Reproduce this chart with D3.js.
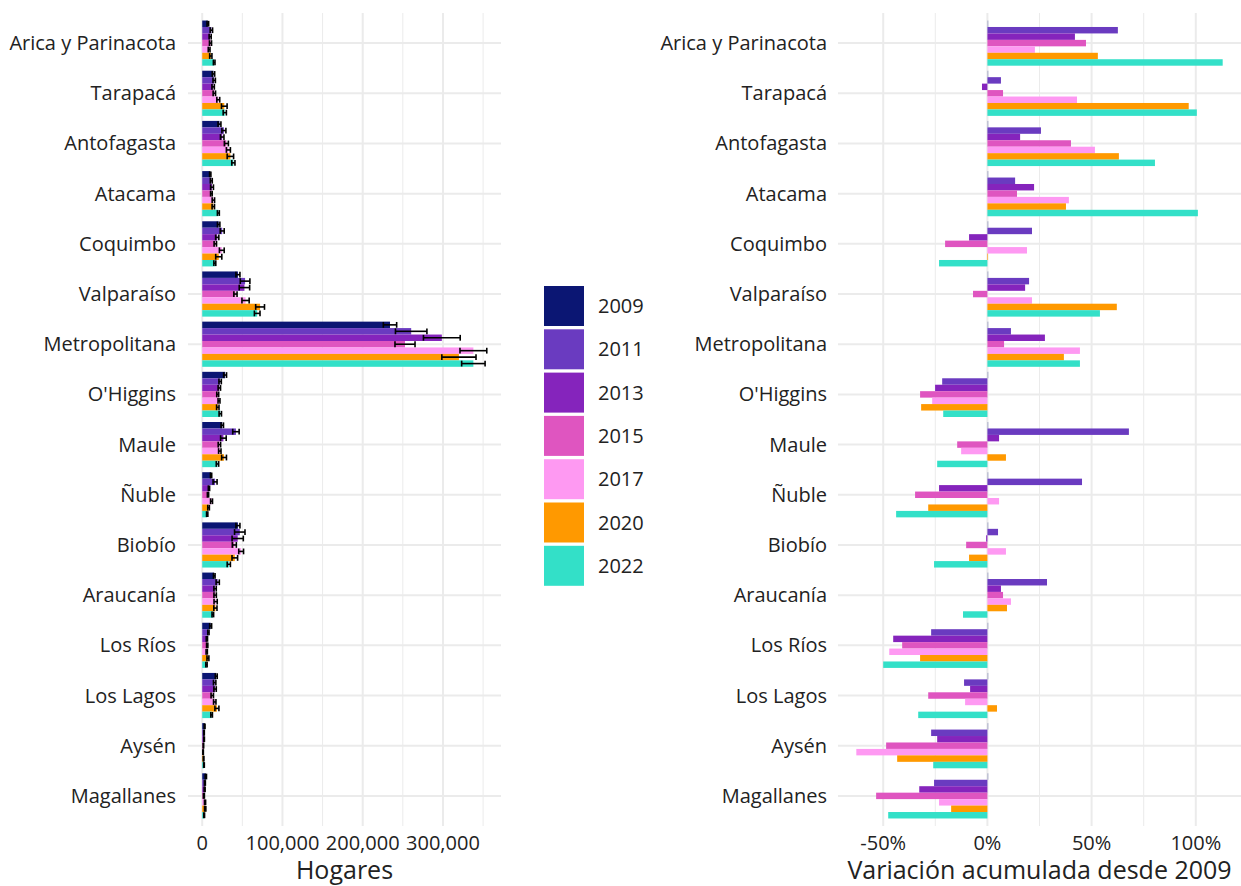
<!DOCTYPE html>
<html>
<head>
    <meta charset="utf-8">
    <title>Hogares por región</title>
    <script src="https://d3js.org/d3.v7.min.js"></script>
    <style>
        body { margin: 0; background: #fff; }
        text { font-family: "Open Sans", "Noto Sans", sans-serif; fill: #222; }
    </style>
</head>
<body>
    <script>
        // Data
        var regions = ["Arica y Parinacota", "Tarapacá", "Antofagasta", "Atacama", "Coquimbo", "Valparaíso",
            "Metropolitana", "O'Higgins", "Maule", "Ñuble", "Biobío", "Araucanía", "Los Ríos", "Los Lagos",
            "Aysén", "Magallanes"];
        var years = ["2009", "2011", "2013", "2015", "2017", "2020", "2022"];
        var colors = ["#0b1673", "#6a3bc0", "#8524bc", "#df55c0", "#fe99f2", "#ff9900", "#33e0c8"];

        // households per region, one value per year
        var hogares = [
            [7000, 11400, 9900, 10300, 8600, 10700, 14900],
            [14000, 14900, 13600, 15100, 20000, 27500, 28100],
            [21500, 27000, 24900, 30100, 32600, 35100, 38800],
            [10000, 11300, 12200, 11400, 13900, 13800, 20100],
            [20500, 24900, 18700, 16300, 24400, 20600, 15700],
            [44500, 53400, 52600, 41400, 54000, 72100, 68500],
            [234000, 260400, 298600, 252700, 337900, 319900, 337900],
            [28500, 22300, 21300, 19300, 20900, 19400, 22500],
            [25000, 42000, 26400, 21400, 21900, 27200, 19000],
            [11000, 16000, 8400, 7200, 11600, 7900, 6200],
            [44500, 46800, 44200, 40000, 48500, 40600, 33100],
            [15000, 19300, 16000, 16100, 16700, 16400, 13200],
            [10500, 7700, 5800, 6200, 5600, 7100, 5300],
            [17500, 15500, 16000, 12500, 15600, 18300, 11700],
            [3000, 2200, 2300, 1500, 1100, 1700, 2200],
            [4500, 3300, 3000, 2100, 3500, 3700, 2400]
        ];
        // half width of the error bars
        var errores = [
            [1000, 1500, 1300, 1300, 1100, 1400, 1000],
            [1500, 1500, 1500, 1500, 1800, 3500, 2000],
            [1800, 2500, 2200, 2500, 2500, 4000, 2000],
            [800, 1200, 1800, 1000, 1500, 1500, 1200],
            [1500, 2500, 2000, 1500, 3000, 3800, 1200],
            [2500, 6000, 6500, 2000, 4500, 5500, 3500],
            [8300, 19600, 22900, 12500, 16700, 21300, 14600],
            [1800, 1500, 1500, 1200, 1200, 1500, 1500],
            [1500, 4000, 3500, 1500, 1500, 3000, 1500],
            [800, 2500, 800, 800, 1200, 1000, 800],
            [2500, 6500, 7000, 2500, 3000, 3500, 2000],
            [1000, 2000, 1500, 1500, 2000, 2000, 1000],
            [1200, 800, 800, 800, 800, 1200, 800],
            [1200, 1500, 1500, 1500, 1500, 2500, 1000],
            [500, 400, 400, 300, 300, 400, 400],
            [800, 600, 600, 600, 700, 800, 500]
        ];
        // cumulative change since 2009, in %
        var variacion = [
            [0, 62.6, 42.0, 47.3, 22.8, 53.0, 112.9],
            [0, 6.5, -2.6, 7.5, 43.0, 96.6, 100.5],
            [0, 25.7, 15.7, 40.1, 51.6, 63.1, 80.4],
            [0, 13.3, 22.4, 14.2, 39.1, 37.7, 101.0],
            [0, 21.4, -8.8, -20.3, 19.0, 0.3, -23.2],
            [0, 20.0, 18.1, -6.9, 21.4, 62.1, 54.0],
            [0, 11.3, 27.6, 8.0, 44.4, 36.7, 44.4],
            [0, -21.7, -25.1, -32.3, -26.5, -31.8, -21.2],
            [0, 67.9, 5.6, -14.5, -12.6, 8.9, -24.1],
            [0, 45.4, -23.2, -34.7, 5.6, -28.4, -43.8],
            [0, 5.1, -0.6, -10.2, 8.9, -8.8, -25.6],
            [0, 28.6, 6.5, 7.5, 11.3, 9.4, -11.7],
            [0, -27.0, -45.2, -40.9, -47.1, -32.3, -50.0],
            [0, -11.2, -8.3, -28.4, -10.7, 4.6, -33.2],
            [0, -27.0, -24.1, -48.6, -62.9, -43.3, -26.0],
            [0, -25.6, -32.7, -53.4, -23.2, -17.4, -47.6]
        ];
        var leftTicks = [0, 100000, 200000, 300000];
        var leftMinor = [50000, 150000, 250000, 350000];
        var rightTicks = [-50, 0, 50, 100];
        var rightMinor = [-25, 25, 75];

        var width = 1241, height = 886;
        var plotTop = 13, plotBottom = 826;

        var svg = d3.select("body").append("svg")
            .attr("width", width)
            .attr("height", height);

        // long format rows
        var rows = [];
        regions.forEach(function(r, i) {
            years.forEach(function(yr, j) {
                rows.push({ region: r, year: yr, j: j, value: hogares[i][j], err: errores[i][j], pct: variacion[i][j] });
            });
        });

        var y = d3.scalePoint().domain(regions).range([plotTop, plotBottom]).padding(0.6);
        var groupH = y.step() * 0.9;
        var barH = groupH / years.length;
        function barY(d) { return y(d.region) - groupH / 2 + d.j * barH; }

        // expand domain by 5% like ggplot
        function expand(lo, hi) {
            var s = hi - lo;
            return [lo - 0.05 * s, hi + 0.05 * s];
        }

        var xl = d3.scaleLinear()
            .domain(expand(0, d3.max(rows, function(d) { return d.value + d.err; })))
            .range([188, 501]);
        var xr = d3.scaleLinear()
            .domain(expand(d3.min(rows, function(d) { return d.pct; }), d3.max(rows, function(d) { return d.pct; })))
            .range([838, 1241]);

        function panel(x, major, minor, fmt, title, labelX) {
            var g = svg.append("g");
            // grid
            g.selectAll(".minor").data(minor).enter().append("line")
                .attr("x1", x).attr("x2", x).attr("y1", plotTop).attr("y2", plotBottom)
                .attr("stroke", "#ebebeb").attr("stroke-width", 1);
            g.selectAll(".major").data(major).enter().append("line")
                .attr("x1", x).attr("x2", x).attr("y1", plotTop).attr("y2", plotBottom)
                .attr("stroke", "#ebebeb").attr("stroke-width", 2);
            g.selectAll(".hgrid").data(regions).enter().append("line")
                .attr("x1", x.range()[0]).attr("x2", x.range()[1])
                .attr("y1", function(d) { return y(d); }).attr("y2", function(d) { return y(d); })
                .attr("stroke", "#ebebeb").attr("stroke-width", 2);
            // axes labels
            g.selectAll(".xt").data(major).enter().append("text")
                .attr("x", x).attr("y", 850)
                .attr("text-anchor", "middle")
                .style("font-size", "20px")
                .text(fmt);
            g.selectAll(".yt").data(regions).enter().append("text")
                .attr("x", labelX).attr("y", function(d) { return y(d); })
                .attr("dy", "0.35em")
                .attr("text-anchor", "end")
                .style("font-size", "20px")
                .text(function(d) { return d; });
            g.append("text")
                .attr("x", (x.range()[0] + x.range()[1]) / 2).attr("y", 879)
                .attr("text-anchor", "middle")
                .style("font-size", "25px")
                .text(title);
            return g;
        }

        // left panel: households
        var gl = panel(xl, leftTicks, leftMinor, d3.format(","), "Hogares", 176);
        gl.selectAll(".bar").data(rows).enter().append("rect")
            .attr("x", xl(0))
            .attr("y", barY)
            .attr("width", function(d) { return xl(d.value) - xl(0); })
            .attr("height", barH)
            .attr("fill", function(d) { return colors[d.j]; });
        var eb = gl.selectAll(".err").data(rows).enter().append("g")
            .attr("stroke", "#000").attr("stroke-width", 1.6);
        eb.append("line")
            .attr("x1", function(d) { return xl(d.value - d.err); })
            .attr("x2", function(d) { return xl(d.value + d.err); })
            .attr("y1", function(d) { return barY(d) + barH / 2; })
            .attr("y2", function(d) { return barY(d) + barH / 2; });
        eb.selectAll(".cap").data(function(d) { return [[d, -1], [d, 1]]; }).enter().append("line")
            .attr("x1", function(p) { return xl(p[0].value + p[1] * p[0].err); })
            .attr("x2", function(p) { return xl(p[0].value + p[1] * p[0].err); })
            .attr("y1", function(p) { return barY(p[0]) + barH * 0.05; })
            .attr("y2", function(p) { return barY(p[0]) + barH * 0.95; });

        // right panel: cumulative change
        var gr = panel(xr, rightTicks, rightMinor, function(d) { return d + "%"; }, "Variación acumulada desde 2009", 827);
        gr.selectAll(".bar").data(rows).enter().append("rect")
            .attr("x", function(d) { return Math.min(xr(0), xr(d.pct)); })
            .attr("y", barY)
            .attr("width", function(d) { return Math.max(Math.abs(xr(d.pct) - xr(0)), d.j === 0 ? 1 : 0); })
            .attr("height", barH)
            .attr("fill", function(d) { return colors[d.j]; })
            .attr("fill-opacity", function(d) { return d.j === 0 ? 0.3 : 1; });

        // legend
        var lg = svg.append("g").attr("transform", "translate(544,286)");
        var item = lg.selectAll("g").data(years).enter().append("g")
            .attr("transform", function(d, i) { return "translate(0," + (i * 43.3) + ")"; });
        item.append("rect")
            .attr("width", 40).attr("height", 40)
            .attr("fill", function(d, i) { return colors[i]; });
        item.append("text")
            .attr("x", 54).attr("y", 20).attr("dy", "0.35em")
            .style("font-size", "20px")
            .text(function(d) { return d; });
    </script>
</body>
</html>
